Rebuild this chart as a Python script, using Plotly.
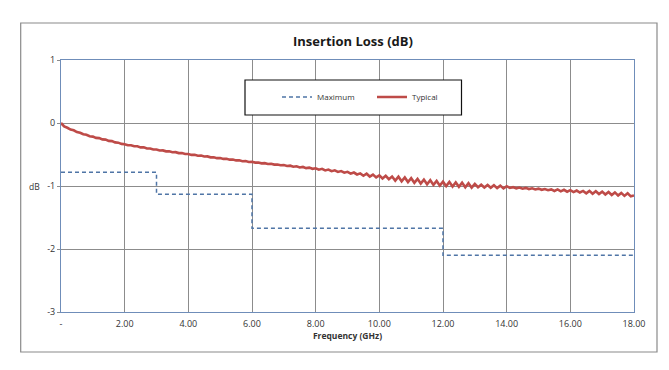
import plotly.graph_objects as go

# ---- data ----
max_freq = [0, 3, 6, 12, 18]
max_loss = [-0.78, -1.13, -1.67, -2.10, -2.10]

typ_freq = [round(0.1 * i, 1) for i in range(181)]
typ_loss = [
    0.000, -0.054, -0.076, -0.104, -0.116, -0.144, -0.156, -0.179, -0.186, -0.209,
    -0.216, -0.236, -0.240, -0.260, -0.264, -0.284, -0.288, -0.308, -0.312, -0.332,
    -0.336, -0.353, -0.353, -0.370, -0.370, -0.387, -0.387, -0.404, -0.404, -0.421,
    -0.421, -0.436, -0.435, -0.450, -0.449, -0.464, -0.463, -0.478, -0.477, -0.492,
    -0.491, -0.506, -0.504, -0.519, -0.517, -0.532, -0.530, -0.545, -0.543, -0.558,
    -0.556, -0.570, -0.568, -0.582, -0.580, -0.594, -0.592, -0.606, -0.604, -0.618,
    -0.616, -0.629, -0.626, -0.640, -0.637, -0.650, -0.647, -0.660, -0.658, -0.671,
    -0.668, -0.683, -0.677, -0.694, -0.687, -0.705, -0.697, -0.716, -0.708, -0.727,
    -0.718, -0.741, -0.727, -0.753, -0.739, -0.765, -0.751, -0.777, -0.763, -0.789,
    -0.775, -0.804, -0.786, -0.817, -0.799, -0.837, -0.805, -0.850, -0.818, -0.863,
    -0.831, -0.880, -0.838, -0.892, -0.850, -0.914, -0.852, -0.926, -0.864, -0.938,
    -0.876, -0.950, -0.887, -0.961, -0.898, -0.972, -0.909, -0.983, -0.920, -0.994,
    -0.931, -1.002, -0.937, -1.008, -0.943, -1.014, -0.949, -1.020, -0.955, -1.026,
    -0.966, -1.019, -0.979, -1.024, -0.984, -1.029, -0.989, -1.034, -0.994, -1.039,
    -1.003, -1.031, -1.018, -1.037, -1.024, -1.043, -1.030, -1.049, -1.036, -1.055,
    -1.042, -1.061, -1.048, -1.067, -1.054, -1.079, -1.054, -1.085, -1.060, -1.091,
    -1.066, -1.097, -1.072, -1.103, -1.078, -1.116, -1.077, -1.122, -1.083, -1.128,
    -1.089, -1.136, -1.095, -1.143, -1.102, -1.150, -1.109, -1.157, -1.116, -1.164,
    -1.150,
]

x_tickvals = [0, 2, 4, 6, 8, 10, 12, 14, 16, 18]
x_ticktext = ["-", "2.00", "4.00", "6.00", "8.00", "10.00", "12.00", "14.00", "16.00", "18.00"]
y_tickvals = [1, 0, -1, -2, -3]
y_ticktext = ["1", "0", "-1", "-2", "-3"]

FONT = "Open Sans"
TXT = "#333333"

fig = go.Figure()
fig.add_trace(go.Scatter(
    x=max_freq, y=max_loss, name="Maximum", mode="lines",
    line=dict(color="#4F75A6", width=1.5, dash="4px,3px", shape="hv"),
))
fig.add_trace(go.Scatter(
    x=typ_freq, y=typ_loss, name="Typical", mode="lines",
    line=dict(color="#BE4B48", width=2.6),
))

L, R, T, B = 61, 35, 60, 58
W, H = 669, 370
pw, ph = W - L - R, H - T - B


def px_x(p):
    return (p - L) / pw


def px_y(p):
    return (H - B - p) / ph


fig.update_layout(
    width=W, height=H,
    margin=dict(l=L, r=R, t=T, b=B, pad=0),
    paper_bgcolor="white", plot_bgcolor="white",
    font=dict(family=FONT, size=9, color=TXT),
    showlegend=True,
    legend=dict(
        orientation="h", x=px_x(277), y=px_y(97), xanchor="left", yanchor="middle",
        bgcolor="rgba(0,0,0,0)", borderwidth=0,
        font=dict(family=FONT, size=8, color=TXT),
        entrywidth=50, entrywidthmode="pixels",
    ),
    xaxis=dict(
        range=[0, 18], tickvals=x_tickvals, ticktext=x_ticktext,
        showgrid=True, gridcolor="#8C8C8C", gridwidth=1,
        showline=True, linecolor="#6F8DB9", linewidth=1, mirror=True,
        ticks="", zeroline=False, tickfont=dict(size=9, color=TXT),
        ticklabelstandoff=3,
        title=dict(text="<b>Frequency (GHz)</b>", font=dict(size=8.5, color=TXT), standoff=4),
    ),
    yaxis=dict(
        range=[-3, 1], tickvals=y_tickvals, ticktext=y_ticktext,
        showgrid=True, gridcolor="#8C8C8C", gridwidth=1,
        showline=True, linecolor="#6F8DB9", linewidth=1, mirror=True,
        ticks="outside", ticklen=3, tickcolor="#8C8C8C",
        zeroline=False, tickfont=dict(size=9, color=TXT),
    ),
    shapes=[
        dict(type="rect", xref="paper", yref="paper",
             x0=px_x(20.7), x1=px_x(657), y0=px_y(352), y1=px_y(23),
             line=dict(color="#8A8A8A", width=1.2), fillcolor="rgba(0,0,0,0)", layer="below"),
        dict(type="rect", xref="paper", yref="paper",
             x0=px_x(245), x1=px_x(461.5), y0=px_y(115), y1=px_y(80),
             line=dict(color="#111111", width=1.2), fillcolor="white", layer="above"),
    ],
    annotations=[
        dict(text="<b>Insertion Loss (dB)</b>", xref="paper", yref="paper",
             x=px_x(353), y=px_y(41), xanchor="center", yanchor="middle",
             showarrow=False, font=dict(family=FONT, size=13, color="#1A1A1A")),
        dict(text="dB", xref="paper", yref="y",
             x=px_x(42), y=-1, xanchor="right", yanchor="middle",
             showarrow=False, font=dict(family=FONT, size=8.5, color=TXT)),
    ],
)

fig.write_html("out.html", config={"displayModeBar": False},
               post_script="document.body.style.margin='0';")
